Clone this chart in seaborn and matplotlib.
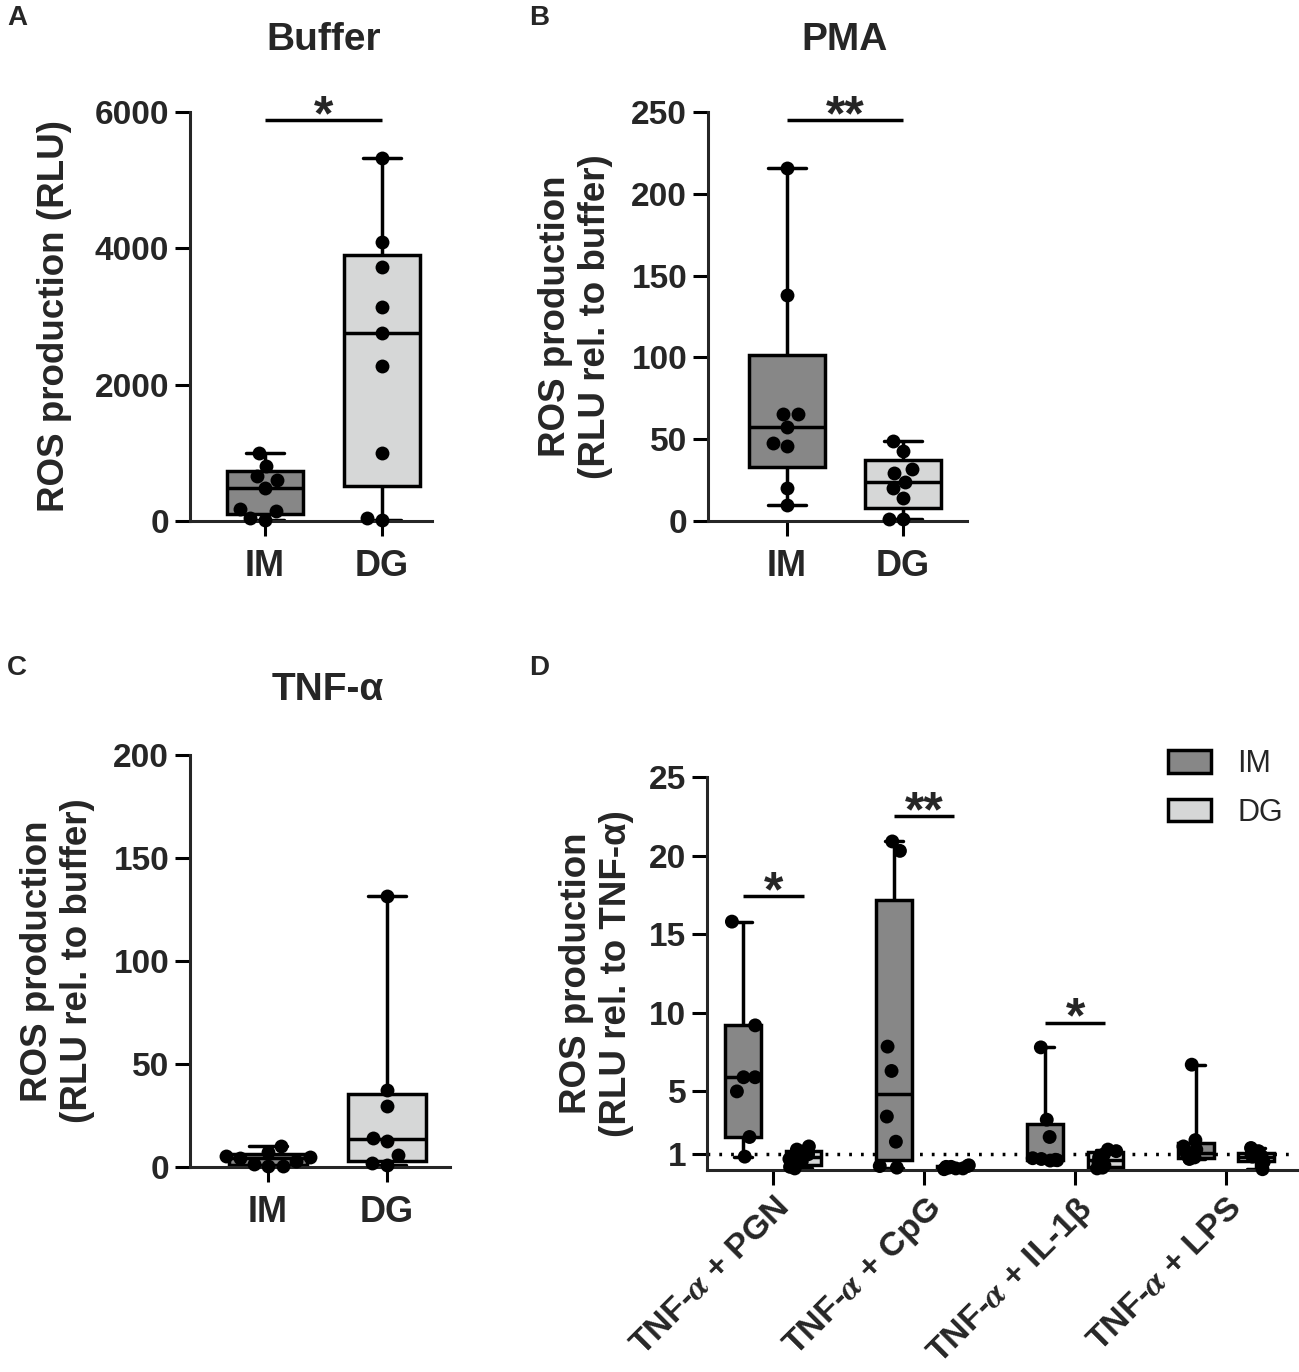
import numpy as np
import pandas as pd
import matplotlib
matplotlib.use('Agg')
import matplotlib as mpl
import matplotlib.pyplot as plt
from matplotlib.patches import Patch
import seaborn as sns

# values
groups = ['IM', 'DG']

buffer_im = [22, 40, 151, 179, 487, 599, 655, 812, 991]
buffer_dg = [20, 40, 991, 2267, 2754, 3146, 3733, 4086, 5328]

pma_im = [9.8, 19.9, 45.6, 47.9, 57.2, 65.4, 65.4, 138, 216]
pma_dg = [1, 1.5, 14, 19.9, 24, 29.2, 31.5, 43, 49]

tnf_im = [0.3, 0.5, 1.5, 2.8, 4.2, 4.8, 5.5, 7.5, 10.2]
tnf_dg = [1.2, 1.8, 5.7, 12.6, 14.1, 29.6, 37.2, 131.5]

stim_labels = ['TNF-$\\alpha$ + PGN', 'TNF-$\\alpha$ + CpG',
               'TNF-$\\alpha$ + IL-1β', 'TNF-$\\alpha$ + LPS']
pgn_im = [0.85, 2.1, 5.0, 5.9, 5.9, 9.2, 15.8]
pgn_dg = [0.1, 0.2, 0.55, 0.7, 0.9, 1.0, 1.3, 1.5]
cpg_im = [0.15, 0.25, 1.8, 3.4, 6.3, 7.85, 20.3, 20.9]
cpg_dg = [0.05, 0.1, 0.1, 0.15, 0.2, 0.2, 0.25, 0.3]
il1b_im = [0.6, 0.62, 0.65, 0.7, 0.75, 2.1, 3.2, 7.8]
il1b_dg = [0.1, 0.15, 0.3, 0.5, 0.8, 1.0, 1.2, 1.3]
lps_im = [0.7, 0.75, 0.8, 1.0, 1.1, 1.3, 1.5, 1.9, 6.7]
lps_dg = [0.05, 0.5, 0.7, 0.75, 0.85, 0.9, 1.0, 1.2, 1.4]

colors = {'IM': '#878787', 'DG': '#d6d7d7'}

# Prism draws quartiles with the (n+1)p rule, numpy default is linear
_mpl_stats = mpl.cbook.boxplot_stats


def prism_stats(X, *args, **kwargs):
    stats = _mpl_stats(X, *args, **kwargs)
    for st, vals in zip(stats, X):
        st['q1'], st['med'], st['q3'] = np.percentile(vals, [25, 50, 75], method='weibull')
    return stats


mpl.cbook.boxplot_stats = prism_stats
np.random.seed(3)  # fixed jitter in panel D

sns.set_style('ticks')
plt.rcParams['font.family'] = ['Liberation Sans', 'DejaVu Sans']
plt.rcParams['font.weight'] = 'bold'
plt.rcParams['axes.labelweight'] = 'bold'
plt.rcParams['mathtext.fontset'] = 'stix'
plt.rcParams['axes.linewidth'] = 2.2

W, H = 1299, 1372
fig = plt.figure(figsize=(W / 100, H / 100), dpi=100)


def rect(l, r, t, b):
    return [l / W, 1 - b / H, (r - l) / W, (b - t) / H]


def style_axis(ax):
    sns.despine(ax=ax)
    ax.tick_params(axis='both', labelsize=24, width=2.2, length=11, pad=4, color='black')
    ax.tick_params(axis='x', pad=9, labelsize=26)
    ax.set_xlabel('')


def sig(ax, x0, x1, y, text):
    ax.plot([x0, x1], [y, y], color='black', lw=2.5, clip_on=False, solid_capstyle='butt')
    ax.annotate(text, xy=((x0 + x1) / 2, y), xytext=(0, -7), textcoords='offset points',
                ha='center', va='baseline', fontsize=36, fontweight='bold', annotation_clip=False)


def two_group(ax, im, dg):
    df = pd.DataFrame({'group': ['IM'] * len(im) + ['DG'] * len(dg), 'value': im + dg})
    sns.boxplot(data=df, x='group', y='value', hue='group', order=groups, hue_order=groups,
                palette=colors, saturation=1, width=0.65, whis=(0, 100), showfliers=False,
                linecolor='black', linewidth=2.5, legend=False, ax=ax)
    sns.swarmplot(data=df, x='group', y='value', order=groups, color='black', size=10,
                  zorder=3, clip_on=False, ax=ax)


# A - buffer
axA = fig.add_axes(rect(190, 432, 112, 521))
two_group(axA, buffer_im, buffer_dg)
axA.set_ylim(0, 6000)
axA.set_yticks([0, 2000, 4000, 6000])
axA.set_xlim(-0.64, 1.43)
style_axis(axA)
axA.set_ylabel('ROS production (RLU)', fontsize=26.5)
axA.yaxis.set_label_coords(-0.488, 0.5)
axA.text(0.5, 1.176, 'Buffer', transform=axA.get_xaxis_transform(), ha='center', va='center',
         fontsize=28, fontweight='bold')
sig(axA, 0, 1, 5880, '*')

# B - PMA
axB = fig.add_axes(rect(708, 967, 112, 521))
two_group(axB, pma_im, pma_dg)
axB.set_ylim(0, 250)
axB.set_yticks([0, 50, 100, 150, 200, 250])
axB.set_xlim(-0.68, 1.55)
style_axis(axB)
axB.set_ylabel('ROS production\n(RLU rel. to buffer)', fontsize=26.5)
axB.yaxis.set_label_coords(-0.367, 0.5)
axB.text(0.5, 1.176, 'PMA', transform=axB.get_xaxis_transform(), ha='center', va='center',
         fontsize=28, fontweight='bold')
sig(axB, 0, 1, 245, '**')

# C - TNF-alpha
axC = fig.add_axes(rect(190, 450, 755, 1167))
two_group(axC, tnf_im, tnf_dg)
axC.set_ylim(0, 200)
axC.set_yticks([0, 50, 100, 150, 200])
axC.set_xlim(-0.655, 1.53)
style_axis(axC)
axC.set_ylabel('ROS production\n(RLU rel. to buffer)', fontsize=26.5)
axC.yaxis.set_label_coords(-0.365, 0.5)
axC.text(0.5, 1.158, 'TNF-α', transform=axC.get_xaxis_transform(), ha='center', va='center',
         fontsize=28, fontweight='bold')

# D - combined stimuli
rows = []
for lab, a, b in zip(stim_labels, [pgn_im, cpg_im, il1b_im, lps_im],
                     [pgn_dg, cpg_dg, il1b_dg, lps_dg]):
    rows += [(lab, 'IM', v) for v in a] + [(lab, 'DG', v) for v in b]
df_d = pd.DataFrame(rows, columns=['stim', 'group', 'value'])

axD = fig.add_axes(rect(707, 1297, 777, 1170))
axD.axhline(1, color='black', lw=2.5, ls=(0, (0.8, 2.6)), zorder=0.5)
sns.boxplot(data=df_d, x='stim', y='value', hue='group', order=stim_labels, hue_order=groups,
            palette=colors, saturation=1, width=0.8, gap=0.41, whis=(0, 100), showfliers=False,
            linecolor='black', linewidth=2.5, legend=False, ax=axD)
sns.stripplot(data=df_d, x='stim', y='value', hue='group', order=stim_labels, hue_order=groups,
              palette={'IM': 'black', 'DG': 'black'}, dodge=True, jitter=0.2, size=10,
              legend=False, zorder=3, clip_on=False, ax=axD)
axD.set_ylim(0, 25)
axD.set_yticks([1, 5, 10, 15, 20, 25])
axD.set_xlim(-0.44, 3.47)
style_axis(axD)
axD.tick_params(axis='x', pad=5)
axD.set_xticks(range(4))
axD.set_xticklabels(stim_labels, rotation=45, ha='right', va='top', rotation_mode='anchor',
                    fontsize=24.5)
axD.set_ylabel('ROS production\n(RLU rel. to TNF-α)', fontsize=26.5)
axD.yaxis.set_label_coords(-0.123, 0.5)
sig(axD, -0.2, 0.2, 17.4, '*')
sig(axD, 0.8, 1.2, 22.5, '**')
sig(axD, 1.8, 2.2, 9.35, '*')

handles = [Patch(facecolor=colors[g], edgecolor='black', linewidth=2.5, label=g) for g in groups]
fig.legend(handles=handles, loc='upper left', bbox_to_anchor=(1153 / W, 1 - 734 / H),
           frameon=False, prop={'size': 22, 'weight': 'normal'}, handlelength=1.4,
           handleheight=0.75, handletextpad=0.85, labelspacing=0.6, borderpad=0)

# panel letters
for letter, x, y in [('A', 7, 18), ('B', 529, 18), ('C', 7, 668), ('D', 529, 668)]:
    fig.text(x / W, 1 - y / H, letter, ha='left', va='center', fontsize=20, fontweight='bold')

plt.savefig('out.png', dpi=100)
